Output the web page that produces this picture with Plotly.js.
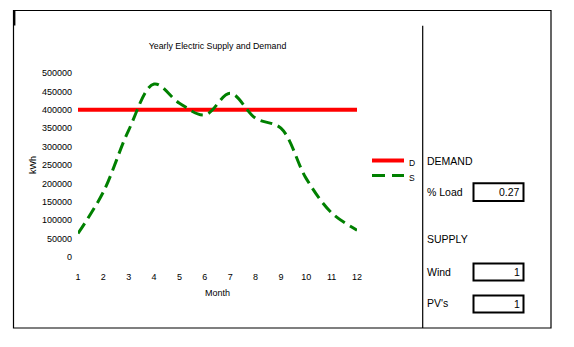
<!DOCTYPE html>
<html>
<head>
<meta charset="utf-8">
<script src="https://cdn.plot.ly/plotly-3.0.1.min.js"></script>
<style>
html,body{margin:0;padding:0;background:#fff;}
#chart{width:574px;height:347px;}
</style>
</head>
<body>
<div id="chart"></div>
<script>
// ---- data ----
const months = [1,2,3,4,5,6,7,8,9,10,11,12];
const demand = [400000,400000,400000,400000,400000,400000,400000,400000,400000,400000,400000,400000];
const supply = [64000,177000,345000,470000,418000,386000,445000,377000,350000,213000,120000,73000];
const yTicks = [0,50000,100000,150000,200000,250000,300000,350000,400000,450000,500000];
const seriesNames = ["D","S"];
const panelLabels = ["DEMAND","% Load","SUPPLY","Wind","PV's"];
const panelValues = {"% Load":"0.27","Wind":"1","PV's":"1"};

// ---- layout geometry (pixels) ----
const WW = 574, HH = 347;
const L = 78, R = 217, T = 73, B = 90;
const PW = WW - L - R, PH = HH - T - B;
const px = x => (x - L) / PW;
const py = y => (HH - B - y) / PH;
const FONT = "Liberation Sans, Arial, sans-serif";

const lineStyles = [
  {color: "#ff0000", width: 4},
  {color: "#008000", width: 3, dash: "12px,6px", shape: "spline", smoothing: 1}
];

const traces = [
  {x: months, y: demand, name: seriesNames[0], mode: "lines", line: lineStyles[0], showlegend:false},
  {x: months, y: supply, name: seriesNames[1], mode: "lines", line: lineStyles[1], showlegend:false}
];

const shapes = [
  // outer frame
  {type:"rect", xref:"paper", yref:"paper", x0:px(13.5), x1:px(551), y0:py(10.5), y1:py(328),
   line:{color:"#000", width:1.2}},
  // left thick mark
  {type:"line", xref:"paper", yref:"paper", x0:px(14.3), x1:px(14.3), y0:py(10.5), y1:py(25.5),
   line:{color:"#000", width:2.2}},
  // divider
  {type:"line", xref:"paper", yref:"paper", x0:px(422.7), x1:px(422.7), y0:py(25.7), y1:py(328),
   line:{color:"#000", width:1.2}}
];

const annotations = [];

// legend (drawn by hand for exact spacing)
const legY = [160.5, 175.5];
seriesNames.forEach((nm, i) => {
  shapes.push({type:"line", xref:"paper", yref:"paper", x0:px(372), x1:px(404),
    y0:py(legY[i]), y1:py(legY[i]),
    line:{color:lineStyles[i].color, width:lineStyles[i].width, dash: i===1 ? "13px,7px" : "solid"}});
  annotations.push({xref:"paper", yref:"paper", x:px(406.5), y:py(legY[i]+2),
    xanchor:"left", yanchor:"middle", showarrow:false, text:nm,
    font:{family:FONT, size:8.5, color:"#000"}});
});

const labelY = {"DEMAND":160.5, "% Load":191.7, "SUPPLY":239.3, "Wind":271.7, "PV's":303};
const boxY = {"% Load":[183.3,201], "Wind":[263.5,280.5], "PV's":[295.5,312.5]};
panelLabels.forEach(lab => {
  annotations.push({xref:"paper", yref:"paper", x:px(424.5), y:py(labelY[lab]),
    xanchor:"left", yanchor:"middle", showarrow:false, text:lab,
    font:{family:FONT, size:10.5, color:"#000"}});
  if (panelValues[lab] !== undefined) {
    const b = boxY[lab];
    shapes.push({type:"rect", xref:"paper", yref:"paper", x0:px(473.5), x1:px(523.5),
      y0:py(b[0]), y1:py(b[1]), line:{color:"#000", width:2}});
    annotations.push({xref:"paper", yref:"paper", x:px(521.5), y:py((b[0]+b[1])/2),
      xanchor:"right", yanchor:"middle", showarrow:false, text:panelValues[lab],
      font:{family:FONT, size:10.5, color:"#000"}});
  }
});

const layout = {
  width: WW, height: HH,
  margin: {l:L, r:R, t:T, b:B, pad:0},
  paper_bgcolor: "#fff", plot_bgcolor: "#fff",
  font: {family: FONT, size: 9, color: "#000"},
  title: {text: "Yearly Electric Supply and Demand", xref:"paper", x:0.5, xanchor:"center",
          yref:"container", y: 1 - 45.7/HH, yanchor:"middle",
          font:{family:FONT, size:8.8, color:"#000"}},
  xaxis: {range:[1,12], tickvals: months, ticktext: months.map(String),
          showgrid:false, zeroline:false, showline:false, ticks:"",
          ticklabelstandoff: 13, tickfont:{family:FONT, size:9, color:"#000"},
          title:{text:"Month", font:{family:FONT, size:9, color:"#000"}, standoff: 8},
          automargin:false, fixedrange:true},
  yaxis: {range:[0,500000], tickvals: yTicks, ticktext: yTicks.map(String),
          showgrid:false, zeroline:false, showline:false, ticks:"",
          ticklabelstandoff: 5, tickfont:{family:FONT, size:9, color:"#000"},
          title:{text:"kWh", font:{family:FONT, size:9, color:"#000"}, standoff: 3},
          automargin:false, fixedrange:true},
  showlegend: false,
  shapes: shapes,
  annotations: annotations
};

Plotly.newPlot("chart", traces, layout, {staticPlot:true, displayModeBar:false});
</script>
</body>
</html>
